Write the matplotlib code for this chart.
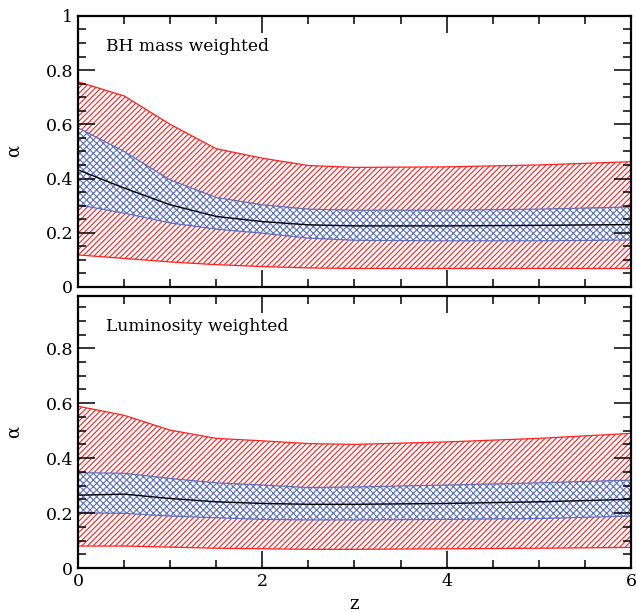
import matplotlib
matplotlib.use("Agg")
import matplotlib.pyplot as plt
from matplotlib.ticker import MultipleLocator

plt.rcParams["font.family"] = "DejaVu Serif"
plt.rcParams["hatch.linewidth"] = 0.8

# redshift grid
z = [0, 0.5, 1.0, 1.5, 2.0, 2.5, 3.0, 4.0, 5.0, 6.0]

# BH mass weighted
bh_red_hi = [0.757, 0.705, 0.60, 0.51, 0.475, 0.448, 0.441, 0.443, 0.450, 0.462]
bh_red_lo = [0.118, 0.105, 0.092, 0.082, 0.075, 0.070, 0.068, 0.068, 0.068, 0.068]
bh_blue_hi = [0.587, 0.500, 0.395, 0.330, 0.303, 0.287, 0.283, 0.283, 0.287, 0.295]
bh_blue_lo = [0.303, 0.272, 0.236, 0.213, 0.198, 0.180, 0.172, 0.170, 0.170, 0.173]
bh_med = [0.432, 0.365, 0.303, 0.260, 0.241, 0.229, 0.225, 0.225, 0.227, 0.230]

# Luminosity weighted
lum_red_hi = [0.589, 0.556, 0.502, 0.472, 0.463, 0.453, 0.450, 0.459, 0.472, 0.490]
lum_red_lo = [0.080, 0.080, 0.076, 0.072, 0.070, 0.068, 0.068, 0.070, 0.072, 0.075]
lum_blue_hi = [0.347, 0.345, 0.326, 0.310, 0.302, 0.293, 0.295, 0.302, 0.310, 0.320]
lum_blue_lo = [0.201, 0.199, 0.189, 0.183, 0.177, 0.175, 0.175, 0.177, 0.180, 0.189]
lum_med = [0.265, 0.269, 0.253, 0.241, 0.235, 0.232, 0.232, 0.235, 0.241, 0.250]

panels = [
    ("BH mass weighted", bh_red_lo, bh_red_hi, bh_blue_lo, bh_blue_hi, bh_med),
    ("Luminosity weighted", lum_red_lo, lum_red_hi, lum_blue_lo, lum_blue_hi, lum_med),
]

red = "#ff2020"
blue = "#5b6fc0"

fig = plt.figure(figsize=(6.36, 6.13), dpi=100)
ax_top = fig.add_axes([0.1226, 0.532, 0.8694, 0.442])
ax_bot = fig.add_axes([0.1226, 0.0734, 0.8694, 0.4436])

for ax, (title, rlo, rhi, blo, bhi, med) in zip([ax_top, ax_bot], panels):
    ax.fill_between(z, rlo, rhi, facecolor="none", edgecolor=red, hatch="//////", linewidth=0.9)
    ax.fill_between(z, blo, bhi, facecolor="white", edgecolor=blue, hatch="xxxxx", linewidth=0.9)
    ax.plot(z, med, color="black", linewidth=1.0)
    ax.set_xlim(0, 6)
    ax.text(0.05, 0.87, title, transform=ax.transAxes, fontsize=12.3)
    ax.set_ylabel("α", fontsize=13)
    ax.yaxis.set_label_coords(-0.1, 0.5)
    ax.xaxis.set_major_locator(MultipleLocator(2))
    ax.xaxis.set_minor_locator(MultipleLocator(0.5))
    ax.yaxis.set_major_locator(MultipleLocator(0.2))
    ax.yaxis.set_minor_locator(MultipleLocator(0.05))
    ax.tick_params(which="both", direction="in", top=True, right=True, width=1.1,
                   labelsize=12.5)
    ax.tick_params(which="major", length=12)
    ax.tick_params(which="minor", length=6)
    for s in ax.spines.values():
        s.set_linewidth(1.6)

fmt = lambda v, p: ("%g" % round(v, 2))
ax_top.set_ylim(0, 1)
ax_top.yaxis.set_major_formatter(plt.FuncFormatter(fmt))
ax_top.tick_params(labelbottom=False)

ax_bot.set_ylim(0, 0.99)
ax_bot.yaxis.set_major_formatter(plt.FuncFormatter(fmt))
ax_bot.xaxis.set_major_formatter(plt.FuncFormatter(fmt))
ax_bot.set_xlabel("z", fontsize=13, labelpad=4)

fig.savefig("out.png", dpi=100)
